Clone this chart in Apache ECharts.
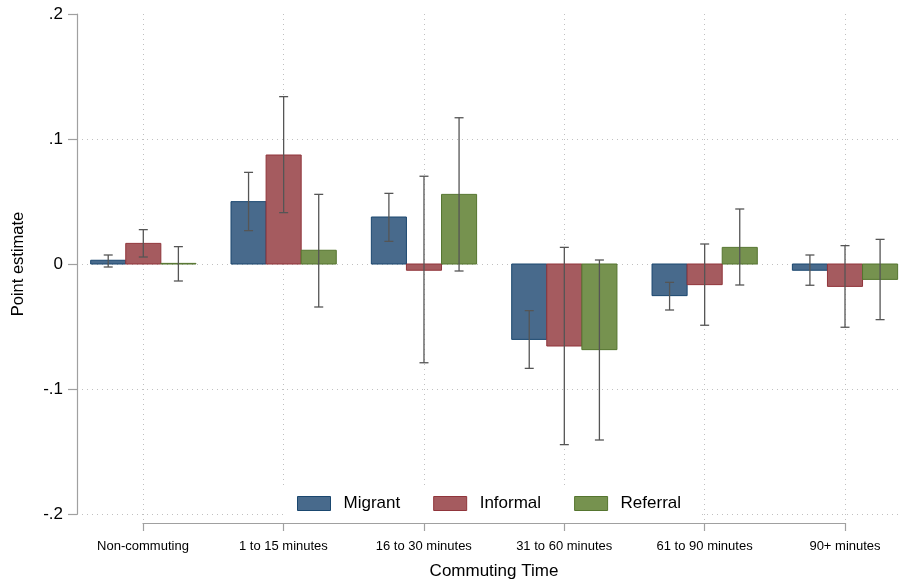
<!DOCTYPE html>
<html>
<head>
<meta charset="utf-8">
<script src="https://cdn.jsdelivr.net/npm/echarts@6/dist/echarts.min.js"></script>
<style>
html,body{margin:0;padding:0;background:#fff;}
#chart{width:901px;height:585px;}
</style>
</head>
<body>
<div id="chart"></div>
<script>
const categories = ['Non-commuting', '1 to 15 minutes', '16 to 30 minutes', '31 to 60 minutes', '61 to 90 minutes', '90+ minutes'];
const seriesNames = ['Migrant', 'Informal', 'Referral'];
const yTickLabels = ['-.2', '-.1', '0', '.1', '.2'];

const migrant   = [0.0030, 0.0499, 0.0376, -0.0603, -0.0253, -0.0050];
const migrantLo = [-0.0024, 0.0267, 0.0181, -0.0835, -0.0368, -0.0170];
const migrantHi = [0.0072, 0.0733, 0.0565, -0.0373, -0.0147, 0.0072];

const informal   = [0.0165, 0.0872, -0.0050, -0.0656, -0.0165, -0.0179];
const informalLo = [0.0056, 0.0411, -0.0790, -0.1445, -0.0490, -0.0506];
const informalHi = [0.0275, 0.1339, 0.0702, 0.0133, 0.0160, 0.0147];

const referral   = [0.0005, 0.0110, 0.0557, -0.0685, 0.0133, -0.0123];
const referralLo = [-0.0136, -0.0344, -0.0056, -0.1408, -0.0168, -0.0445];
const referralHi = [0.0139, 0.0557, 0.1170, 0.0032, 0.0440, 0.0197];

const FONT = 'Liberation Sans, Arial, Helvetica, sans-serif';
const fills = ['#486a8c', '#a55b5f', '#76924f'];
const borders = ['#1a476f', '#90353b', '#55752f'];
const BAR = 0.25;
const offsets = [-0.25, 0, 0.25];
const values = [migrant, informal, referral];
const los = [migrantLo, informalLo, referralLo];
const his = [migrantHi, informalHi, referralHi];

function makeData(k) {
  return categories.map((c, i) => [i + offsets[k], values[k][i], los[k][i], his[k][i]]);
}

function barRender(k) {
  return function (params, api) {
    const x = api.value(0);
    const v = api.value(1);
    const p0 = api.coord([x - BAR / 2, v]);
    const p1 = api.coord([x + BAR / 2, 0]);
    return {
      type: 'rect',
      shape: { x: p0[0], y: Math.min(p0[1], p1[1]), width: p1[0] - p0[0], height: Math.max(Math.abs(p1[1] - p0[1]), 0.5) },
      style: { fill: fills[k], stroke: borders[k], lineWidth: 1 }
    };
  };
}

function errRender(params, api) {
  const x = api.value(0);
  const lo = api.coord([x, api.value(2)]);
  const hi = api.coord([x, api.value(3)]);
  const hw = 4.5;
  const st = { stroke: '#555555', lineWidth: 1.3 };
  return {
    type: 'group',
    children: [
      { type: 'line', shape: { x1: lo[0], y1: lo[1], x2: hi[0], y2: hi[1] }, style: st },
      { type: 'line', shape: { x1: lo[0] - hw, y1: lo[1], x2: lo[0] + hw, y2: lo[1] }, style: st },
      { type: 'line', shape: { x1: hi[0] - hw, y1: hi[1], x2: hi[0] + hw, y2: hi[1] }, style: st }
    ]
  };
}

const series = [];
seriesNames.forEach((name, k) => {
  series.push({
    name: name,
    type: 'custom',
    xAxisIndex: 0, yAxisIndex: 0,
    renderItem: barRender(k),
    itemStyle: { color: fills[k], borderColor: borders[k], borderWidth: 1 },
    encode: { x: 0, y: 1 },
    data: makeData(k),
    z: 3
  });
});
seriesNames.forEach((name, k) => {
  series.push({
    type: 'custom',
    xAxisIndex: 0, yAxisIndex: 0,
    renderItem: errRender,
    encode: { x: 0, y: [2, 3] },
    data: makeData(k),
    z: 4
  });
});

const chart = echarts.init(document.getElementById('chart'), null, { renderer: 'canvas' });
chart.setOption({
  animation: false,
  backgroundColor: '#fff',
  textStyle: { fontFamily: FONT },
  grid: [
    { left: 77, right: 0, top: 14, height: 500 },
    { left: 143, width: 702, top: 14, height: 514 }
  ],
  xAxis: [
    { type: 'value', gridIndex: 0, min: -0.4724, max: 5.399, show: false },
    {
      type: 'category', gridIndex: 1, data: categories, boundaryGap: false, position: 'bottom',
      name: 'Commuting Time', nameLocation: 'middle', nameGap: 40,
      nameTextStyle: { fontSize: 17, color: '#000', fontFamily: FONT },
      axisLine: { show: true, onZero: false, lineStyle: { color: '#a0a0a0', width: 1.2 } },
      axisTick: { show: true, length: 8, lineStyle: { color: '#a0a0a0', width: 1.2 } },
      axisLabel: { fontSize: 13, color: '#000', margin: 17, fontFamily: FONT, interval: 0 },
      splitLine: { show: true, lineStyle: { color: '#c0c0c0', type: [1, 4], width: 1 } }
    }
  ],
  yAxis: [
    {
      type: 'value', gridIndex: 0, min: -0.2, max: 0.2, interval: 0.1, position: 'left',
      name: 'Point estimate', nameLocation: 'middle', nameGap: 50, nameRotate: 90,
      nameTextStyle: { fontSize: 16.5, color: '#000', fontFamily: FONT },
      axisLine: { show: true, onZero: false, lineStyle: { color: '#a0a0a0', width: 1.2 } },
      axisTick: { show: true, length: 9, lineStyle: { color: '#a0a0a0', width: 1.2 } },
      axisLabel: { fontSize: 17, color: '#000', margin: 14, fontFamily: FONT,
        formatter: (v, i) => yTickLabels[i] },
      splitLine: { show: true, lineStyle: { color: ['#c0c0c0', '#c0c0c0', '#c0c0c0', '#c0c0c0', 'rgba(0,0,0,0)'], type: [1, 4], width: 1 } }
    },
    { type: 'value', gridIndex: 1, min: -0.2, max: 0.2, show: false }
  ],
  legend: {
    left: 283, top: 487,
    padding: [8, 18, 8, 14],
    backgroundColor: '#fff',
    icon: 'rect',
    itemWidth: 33, itemHeight: 14, itemGap: 33,
    selectedMode: false,
    textStyle: { fontSize: 17, color: '#000', fontFamily: FONT, padding: [0, 0, 0, 8] },
    data: seriesNames.map((n, k) => ({ name: n, itemStyle: { color: fills[k], borderColor: borders[k], borderWidth: 1 } }))
  },
  series: series
});
</script>
</body>
</html>
